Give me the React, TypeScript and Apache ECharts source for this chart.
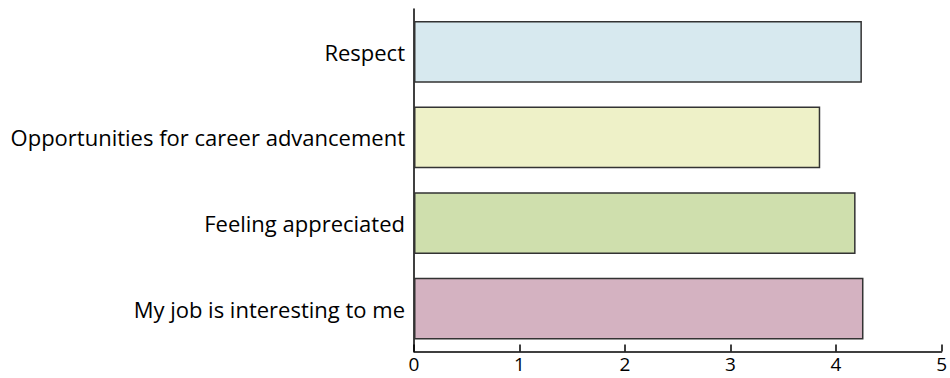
import React, { useEffect, useRef } from "react";
import * as echarts from "echarts";

const categories = [
  "My job is interesting to me",
  "Feeling appreciated",
  "Opportunities for career advancement",
  "Respect",
];
const values = [4.26, 4.185, 3.85, 4.245];
const barColors = ["#d4b2c1", "#cfdfad", "#eef1c8", "#d7e9ef"];
const xTicks = [0, 1, 2, 3, 4, 5];

export default function App() {
  const ref = useRef<HTMLDivElement>(null);
  useEffect(() => {
    if (!ref.current) return;
    const chart = echarts.init(ref.current, null, { renderer: "svg" });
    const font = "'Open Sans', sans-serif";
    chart.setOption({
      animation: false,
      backgroundColor: "#ffffff",
      grid: { left: 414, right: 6, top: 9, bottom: 26.5, containLabel: false },
      xAxis: {
        type: "value",
        min: xTicks[0],
        max: xTicks[xTicks.length - 1],
        interval: 1,
        axisLine: { show: true, lineStyle: { color: "#000", width: 1.5 } },
        axisTick: { show: true, inside: true, length: 7, lineStyle: { color: "#000", width: 1.5 } },
        axisLabel: { color: "#000", fontSize: 19, lineHeight: 19, fontFamily: font, margin: 3 },
        splitLine: { show: false },
      },
      yAxis: {
        type: "category",
        data: categories,
        axisLine: { show: true, lineStyle: { color: "#000", width: 1.5 } },
        axisTick: { show: false },
        axisLabel: { color: "#000", fontSize: 22, fontFamily: font, margin: 9 },
      },
      series: [
        {
          type: "bar",
          data: values.map((v, i) => ({
            value: v,
            itemStyle: { color: barColors[i] },
          })),
          barCategoryGap: "28%",
          itemStyle: { borderColor: "#333", borderWidth: 1.5 },
        },
      ],
    });
    return () => chart.dispose();
  }, []);
  return (
    <div
      ref={ref}
      style={{ position: "fixed", left: 0, top: 0, width: 950, height: 378, background: "#fff" }}
    />
  );
}
